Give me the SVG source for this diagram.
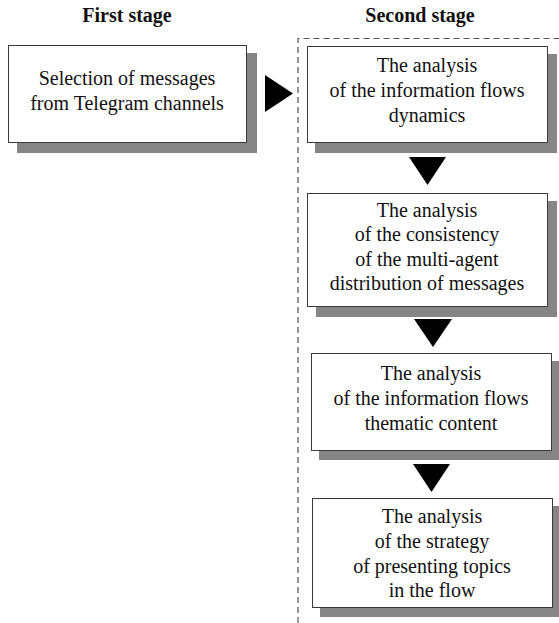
<svg xmlns="http://www.w3.org/2000/svg" width="559" height="623" viewBox="0 0 559 623">
<style>
.bg{fill:#ffffff}
.shadow{fill:#858585}
.box{fill:#ffffff;stroke:#3a3a3a;stroke-width:1}
.t{font-family:"Liberation Serif","Times New Roman",serif;font-size:20px;fill:#111;text-anchor:middle}
.h{font-family:"Liberation Serif","Times New Roman",serif;font-size:20px;font-weight:bold;fill:#111;text-anchor:middle}
.dash{fill:none;stroke:#555;stroke-width:1.2;stroke-dasharray:6,4}
.arr{fill:#000}
</style>
<rect class="bg" x="0" y="0" width="559" height="623"/>
<text class="h" x="127" y="22">First stage</text>
<text class="h" x="420" y="22">Second stage</text>
<path class="dash" d="M298,623 V38.5 H559"/>
<g id="n0">
<rect class="shadow" x="17" y="53" width="240" height="100"/>
<rect class="box" x="8.5" y="45.5" width="238" height="97"/>
<text class="t" x="127" y="85">Selection of messages</text>
<text class="t" x="127" y="110">from Telegram channels</text>
</g>
<g id="n1">
<rect class="shadow" x="315" y="54" width="242" height="99"/>
<rect class="box" x="307.5" y="46.5" width="240" height="96"/>
<text class="t" x="427" y="72">The analysis</text>
<text class="t" x="427" y="97">of the information flows</text>
<text class="t" x="427" y="122">dynamics</text>
</g>
<g id="n2">
<rect class="shadow" x="316" y="201" width="241" height="116"/>
<rect class="box" x="307.5" y="193.5" width="240" height="113"/>
<text class="t" x="427" y="217">The analysis</text>
<text class="t" x="427" y="241">of the consistency</text>
<text class="t" x="427" y="266">of the multi-agent</text>
<text class="t" x="427" y="290">distribution of messages</text>
</g>
<g id="n3">
<rect class="shadow" x="319" y="361" width="240" height="99"/>
<rect class="box" x="311.5" y="353.5" width="240" height="97"/>
<text class="t" x="431" y="380">The analysis</text>
<text class="t" x="431" y="405">of the information flows</text>
<text class="t" x="431" y="430">thematic content</text>
</g>
<g id="n4">
<rect class="shadow" x="320" y="506" width="239" height="111"/>
<rect class="box" x="312.5" y="498.5" width="240" height="109"/>
<text class="t" x="432" y="523">The analysis</text>
<text class="t" x="432" y="548">of the strategy</text>
<text class="t" x="432" y="573">of presenting topics</text>
<text class="t" x="432" y="597">in the flow</text>
</g>
<g id="connectors">
<polygon class="arr" points="265,75 293,93.5 265,112"/>
<polygon class="arr" points="409,157 446,157 427.5,185"/>
<polygon class="arr" points="414,319 452,319 433,347"/>
<polygon class="arr" points="413,464 450,464 431.5,492"/>
</g>
</svg>
